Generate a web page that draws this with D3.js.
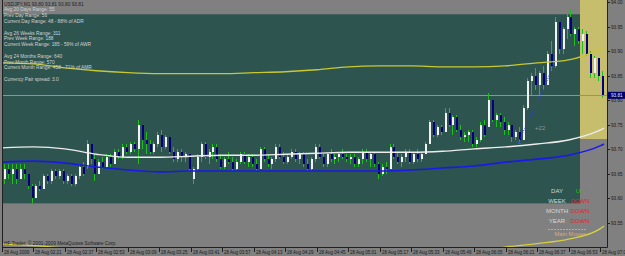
<!DOCTYPE html>
<html>
<head>
<meta charset="utf-8">
<script src="https://cdn.jsdelivr.net/npm/d3@7"></script>
<style>
  html, body { margin: 0; padding: 0; background: #808080; }
  svg { display: block; }
  text { font-family: "Liberation Sans", Arial, sans-serif; }
</style>
</head>
<body>
<svg id="chart" width="625" height="256"></svg>
<script>
const WIDTH = 625;
const HEIGHT = 256;

// USDJPY M1, values in pips above 93.00, one candle every two minutes from 02:06
const opens = [
  64, 66, 65, 66, 64, 66, 65, 62.5, 60, 62.5,
  62, 64.5, 63.5, 65.5, 64.5, 65.5, 63.5, 64.5, 63, 64.5,
  66.5, 66.5, 71, 68, 65, 67.5, 66.5, 68.5, 67, 69.5,
  68.5, 70.5, 69.5, 71, 70, 75, 72, 71, 69.5, 71,
  73, 70.5, 72.5, 69.5, 68, 69.5, 68.5, 69, 64, 66,
  68.5, 71, 68.5, 69.5, 70.5, 68, 66.5, 68, 67.5, 66,
  67.5, 69, 67.5, 68.5, 67, 66, 70, 68, 67, 68,
  70.5, 68.5, 67.5, 68.5, 69.5, 68, 69, 67, 66, 68,
  70.5, 68.5, 67, 69, 68, 68.5, 69, 68.5, 68, 68.5,
  67, 68, 69.5, 68, 69, 67, 65, 66.5, 66, 70.5,
  68.5, 67.5, 68.5, 69.5, 67.5, 69, 68, 69, 71, 75.5,
  73, 74.5, 73.5, 77.5, 75, 76.5, 74, 72.5, 73, 73.5,
  71, 72, 75, 74.5, 80, 76, 77, 75.5, 74, 75,
  72.5, 73.5, 72, 78.5, 84, 85, 83, 85.5, 83, 89.5,
  87, 96, 90.5, 94.5, 97, 93.5, 94.5, 92, 93.5, 89.5,
  85.5, 88.5, 85
];
const highs = [
  67, 67, 67, 67, 67, 67, 65, 63, 63, 63.5,
  65, 65, 66, 66, 66, 66, 65, 65, 65, 67,
  67.5, 72, 71, 69, 68, 68.5, 69, 69, 70, 70,
  71, 71, 71.5, 71.5, 76, 75, 73.5, 72, 71.5, 73.5,
  74, 73, 72.5, 70.5, 70, 70, 69.5, 69, 66.5, 69,
  71.5, 71.5, 70, 71, 71, 69, 68.5, 69.5, 68.5, 68,
  69.5, 69.5, 69, 69, 68, 70.5, 70.5, 69, 68.5, 71,
  71, 69.5, 69, 70, 70, 69.5, 69.5, 68, 68.5, 71,
  71, 69, 69.5, 70, 69, 69.5, 70, 69, 69, 69,
  68.5, 70, 70, 69.5, 69.5, 67.5, 67, 67.5, 71, 71,
  69.5, 69, 70, 70, 69.5, 70, 69.5, 71.5, 76, 76,
  75, 75, 78.5, 78.5, 77, 77, 75, 73.5, 74, 74,
  72.5, 75.5, 76, 81.5, 80, 77.5, 77.5, 76.5, 75.5, 75,
  74, 74.5, 79, 84.5, 85.5, 86.5, 86, 87, 90, 92,
  97, 96, 95, 97.5, 98.5, 95, 95, 94.5, 94, 90,
  89, 88.5, 86
];
const lows = [
  63, 64, 63, 63, 64, 64, 62, 59, 60, 61.5,
  62, 63, 63, 64, 64, 63, 63, 62.5, 62.5, 64,
  64.5, 66, 67, 63.5, 65, 66, 66, 66.5, 67, 68,
  68, 69, 69, 69.5, 67, 70, 69, 69, 69, 70.5,
  69.5, 70, 69, 67.5, 67.5, 67.5, 67.5, 65.5, 63, 65.5,
  67.5, 68, 67, 68, 67.5, 66, 66, 67, 65.5, 65.5,
  67, 67, 66.5, 66.5, 65.5, 66, 67.5, 66.5, 66, 67.5,
  68, 67, 67, 68, 67.5, 67, 66.5, 65.5, 65.5, 67.5,
  68, 66.5, 66.5, 67.5, 67, 67.5, 68, 67.5, 67, 66.5,
  66.5, 67, 67.5, 66.5, 66.5, 64, 64.5, 65, 66, 68,
  67, 66.5, 67.5, 67, 67, 67.5, 67.5, 69, 71, 72.5,
  72.5, 73, 73.5, 74.5, 73, 73.5, 72, 71.5, 71.5, 70.5,
  70.5, 71.5, 72.5, 74.5, 75.5, 74.5, 74.5, 73, 73, 71.5,
  72, 71.5, 72, 78, 81, 82, 81, 82, 83, 86,
  86.5, 89.5, 89.5, 92.5, 93, 91, 91.5, 89.5, 89, 84.5,
  84.5, 84, 80.5
];
const closes = [
  66, 65, 66, 64, 66, 65, 62.5, 60, 62.5, 62,
  64.5, 63.5, 65.5, 64.5, 65.5, 63.5, 64.5, 63, 64.5, 66.5,
  65, 71, 68, 65, 67.5, 66.5, 68.5, 67, 69.5, 68.5,
  70.5, 69.5, 71, 70, 75, 72, 71, 69.5, 71, 73,
  70.5, 72.5, 69.5, 68, 69.5, 68.5, 69, 66, 66, 68.5,
  71, 68.5, 69.5, 70.5, 68, 66.5, 68, 67.5, 66, 67.5,
  69, 67.5, 68.5, 67, 66, 70, 68, 67, 68, 70.5,
  68.5, 67.5, 68.5, 69.5, 68, 69, 67, 66, 68, 70.5,
  68.5, 67, 69, 68, 68.5, 69, 68.5, 68, 68.5, 67,
  68, 69.5, 68, 69, 67, 65, 66.5, 66, 70.5, 68.5,
  67.5, 68.5, 69.5, 67.5, 69, 68, 69, 71, 75.5, 73,
  74.5, 73.5, 77.5, 75, 76.5, 74, 72.5, 73, 73.5, 71,
  72, 75, 73, 80, 76, 77, 75.5, 74, 75, 72.5,
  73.5, 72, 78.5, 84, 85, 83, 85.5, 83, 89.5, 87,
  96, 90.5, 94.5, 97, 93.5, 94.5, 92, 93.5, 89.5, 85.5,
  88.5, 85, 81
];

// moving averages sampled at the axis ticks (pips above 93.00)
const maTimes = [
  "02:05", "02:21", "02:37", "02:53", "03:09", "03:25", "03:41", "03:57",
  "04:13", "04:29", "04:45", "05:01", "05:17", "05:33", "05:49", "06:05",
  "06:21", "06:37", "06:53", "07:09", "07:11"
];
const maWhite = [
  70.3, 70.5, 70.1, 69.0, 68.4, 68.4, 68.6, 68.8, 68.8, 69.0, 69.2,
  69.4, 69.4, 69.4, 69.6, 70.1, 70.5, 71.1, 71.9, 73.9, 74.3
];
const maBlue = [
  67.4, 67.6, 67.2, 66.4, 65.8, 65.4, 65.6, 65.6, 65.6, 65.6, 65.6,
  65.6, 65.6, 65.8, 66.2, 66.6, 67.4, 68.0, 68.8, 70.7, 71.1
];
const bandUpper = [
  87.6, 87.4, 86.6, 86.0, 85.6, 85.4, 85.4, 85.4, 85.6, 85.8, 86.2,
  86.8, 87.0, 87.0, 86.8, 86.8, 87.0, 87.6, 88.2, 90.4, 90.8
];
const bandLower = [
  50.7, 50.4, 49.9, 49.3, 48.8, 48.3, 48.0, 47.8, 47.6, 47.5, 47.5,
  47.6, 47.8, 48.0, 48.4, 48.9, 50.1, 50.8, 51.7, 53.8, 54.4
];

// dotted trailing stop under the last rally
const sarTimes = ["06:28", "06:33", "06:38", "06:42", "06:45"];
const sarValues = [71.9, 76.2, 80.4, 83.8, 87.5];

const tickTimes = [
  "02:05", "02:21", "02:37", "02:53", "03:09", "03:25", "03:41", "03:57",
  "04:13", "04:29", "04:45", "05:01", "05:17", "05:33", "05:49", "06:05",
  "06:21", "06:37", "06:53", "07:09"
];
const tickLabels = [
  "28 Aug 2009", "28 Aug 02:21", "28 Aug 02:37", "28 Aug 02:53", "28 Aug 03:09",
  "28 Aug 03:25", "28 Aug 03:41", "28 Aug 03:57", "28 Aug 04:13", "28 Aug 04:29",
  "28 Aug 04:45", "28 Aug 05:01", "28 Aug 05:17", "28 Aug 05:33", "28 Aug 05:49",
  "28 Aug 06:05", "28 Aug 06:21", "28 Aug 06:37", "28 Aug 06:53", "28 Aug 07:09"
];
const priceTicks = [93.55, 93.6, 93.65, 93.7, 93.75, 93.8, 93.85, 93.9, 93.95, 94.0];
const bidPrice = 93.81;

const infoLines = [
  "USDJPY,M1  93.80 93.81 93.80 93.81",
  "Avg 20 Days Range: 55",
  "Prev Day Range: 56",
  "Current Day Range: 48 - 88% of ADR",
  "",
  "Avg 26 Weeks Range: 311",
  "Prev Week Range: 188",
  "Current Week Range: 185 - 59% of AWR",
  "",
  "Avg 24 Months Range: 640",
  "Prev Month Range: 570",
  "Current Month Range: 458 - 71% of AMR",
  "",
  "Currency Pair spread: 3.0"
];
const trendNames = ["DAY", "WEEK", "MONTH", "YEAR"];
const trendValues = ["UP", "DOWN", "DOWN", "DOWN"];

const parseTime = d3.timeParse("%Y-%m-%d %H:%M");
const at = (hm) => parseTime("2009-08-28 " + hm);
const price = (pips) => 93 + pips / 100;

const firstBar = at("02:06");
const candles = opens.map((o, i) => ({
  time: d3.timeMinute.offset(firstBar, i * 2),
  open: price(o),
  high: price(highs[i]),
  low: price(lows[i]),
  close: price(closes[i]),
}));

const plot = { left: 2, right: 607, top: 0, bottom: 247 };

const xScale = d3
  .scaleTime()
  .domain([at("02:05"), at("07:09")])
  .range([2, 600]);

const yScale = d3.scaleLinear().domain([93.55, 94.0]).range([223, 2]);

const svg = d3.select("#chart");

svg.append("rect").attr("width", WIDTH).attr("height", HEIGHT).attr("fill", "#808080");

svg
  .append("defs")
  .append("clipPath")
  .attr("id", "plot-area")
  .append("rect")
  .attr("x", plot.left)
  .attr("y", plot.top)
  .attr("width", plot.right - plot.left)
  .attr("height", plot.bottom - plot.top);

const area = svg.append("g").attr("clip-path", "url(#plot-area)");

// session boxes
area
  .append("rect")
  .attr("x", 3)
  .attr("y", yScale(93.975))
  .attr("width", 577)
  .attr("height", yScale(93.59) - yScale(93.975))
  .attr("fill", "#2e5450");

area
  .append("rect")
  .attr("x", 580)
  .attr("y", 0)
  .attr("width", 27)
  .attr("height", yScale(93.721))
  .attr("fill", "#c6bd6d");

// bid line
area
  .append("line")
  .attr("x1", plot.left)
  .attr("x2", plot.right)
  .attr("y1", Math.round(yScale(bidPrice)) + 0.5)
  .attr("y2", Math.round(yScale(bidPrice)) + 0.5)
  .attr("stroke", "#8a9492")
  .attr("stroke-width", 1);

// candles
const bars = area.append("g").attr("shape-rendering", "crispEdges");

bars
  .selectAll(".wick")
  .data(candles)
  .enter()
  .append("rect")
  .attr("x", (d) => Math.round(xScale(d.time)))
  .attr("y", (d) => yScale(d.high))
  .attr("width", 1)
  .attr("height", (d) => Math.max(1, yScale(d.low) - yScale(d.high)))
  .attr("fill", "#1fbf1f");

bars
  .selectAll(".body")
  .data(candles)
  .enter()
  .append("rect")
  .attr("x", (d) => Math.round(xScale(d.time)))
  .attr("y", (d) => yScale(Math.max(d.open, d.close)))
  .attr("width", 2)
  .attr("height", (d) => Math.max(1, Math.abs(yScale(d.open) - yScale(d.close))))
  .attr("fill", (d) => (d.close >= d.open ? "#f2f2f2" : "#00007c"));

// indicator lines
const maPoints = (values) => values.map((v, i) => [at(maTimes[i]), price(v)]);
const line = d3
  .line()
  .x((d) => xScale(d[0]))
  .y((d) => yScale(d[1]))
  .curve(d3.curveMonotoneX);

area
  .append("path")
  .attr("d", line(maPoints(bandUpper)))
  .attr("fill", "none")
  .attr("stroke", "#c8c832")
  .attr("stroke-width", 1.3);

area
  .append("path")
  .attr("d", line(maPoints(bandLower)))
  .attr("fill", "none")
  .attr("stroke", "#d4d040")
  .attr("stroke-width", 1.3);

area
  .append("path")
  .attr("d", line(maPoints(maWhite)))
  .attr("fill", "none")
  .attr("stroke", "#ececec")
  .attr("stroke-width", 1.4);

area
  .append("path")
  .attr("d", line(maPoints(maBlue)))
  .attr("fill", "none")
  .attr("stroke", "#1a1ae6")
  .attr("stroke-width", 1.6);

area
  .append("path")
  .attr("d", line(sarTimes.map((t, i) => [at(t), price(sarValues[i])])))
  .attr("fill", "none")
  .attr("stroke", "#2a3cff")
  .attr("stroke-width", 1)
  .attr("stroke-dasharray", "1,1.5");

area
  .append("path")
  .attr("d", () => {
    const x = xScale(at(sarTimes[0]));
    const y = yScale(price(sarValues[0])) + 1;
    return `M${x - 2},${y + 3}L${x},${y}L${x + 2},${y + 3}Z`;
  })
  .attr("fill", "#3050ff");

area
  .append("text")
  .attr("x", xScale(at("06:36")))
  .attr("y", yScale(93.74))
  .attr("font-size", 6)
  .attr("fill", "#8c9896")
  .text("+22");

// frame
svg
  .append("path")
  .attr("d", `M${plot.left + 0.5},0V${plot.bottom + 0.5}H${plot.right + 0.5}V0`)
  .attr("fill", "none")
  .attr("stroke", "#202020")
  .attr("stroke-width", 1);

// price axis
const yAxis = svg.append("g");
priceTicks.forEach((p) => {
  const y = Math.round(yScale(p)) + 0.5;
  yAxis
    .append("line")
    .attr("x1", plot.right)
    .attr("x2", plot.right + 3)
    .attr("y1", y)
    .attr("y2", y)
    .attr("stroke", "#202020");
  yAxis
    .append("text")
    .attr("x", plot.right + 4)
    .attr("y", y)
    .attr("dy", "0.35em")
    .attr("font-size", 4.6)
    .attr("fill", "#1a1a1a")
    .text(p.toFixed(2));
});

const bidY = yScale(bidPrice);
yAxis
  .append("rect")
  .attr("x", plot.right + 1)
  .attr("y", bidY - 3.5)
  .attr("width", 18)
  .attr("height", 7)
  .attr("fill", "#00006e");
yAxis
  .append("text")
  .attr("x", plot.right + 4)
  .attr("y", bidY)
  .attr("dy", "0.35em")
  .attr("font-size", 4.6)
  .attr("fill", "#e8e8e8")
  .text(bidPrice.toFixed(2));

// time axis
const xAxis = svg.append("g");
tickTimes.forEach((t, i) => {
  const x = Math.round(xScale(at(t))) + 0.5;
  xAxis
    .append("line")
    .attr("x1", x)
    .attr("x2", x)
    .attr("y1", plot.bottom)
    .attr("y2", plot.bottom + 5)
    .attr("stroke", "#202020");
  xAxis
    .append("text")
    .attr("x", x + 1.5)
    .attr("y", 254)
    .attr("font-size", 4.5)
    .attr("fill", "#1a1a1a")
    .text(tickLabels[i]);
});

// info block top left
svg
  .append("g")
  .selectAll("text")
  .data(infoLines)
  .enter()
  .append("text")
  .attr("x", 4)
  .attr("y", (d, i) => 5.5 + i * 5.8)
  .attr("font-size", 4.8)
  .attr("fill", (d, i) => (i === 0 ? "#1e1e1e" : "#d2d2d2"))
  .text((d) => d);

svg
  .append("text")
  .attr("x", 4)
  .attr("y", 244.5)
  .attr("font-size", 4.8)
  .attr("fill", "#1e1e1e")
  .text("HF Trader, \u00a9 2001-2009 MetaQuotes Software Corp.");

// trend panel bottom right
const trend = svg.append("g").attr("font-size", 6);
trendNames.forEach((name, i) => {
  const y = 193 + i * 10;
  trend
    .append("text")
    .attr("x", 557)
    .attr("y", y)
    .attr("text-anchor", "middle")
    .attr("fill", "#d8d8d8")
    .text(name);
  trend
    .append("text")
    .attr("x", 580)
    .attr("y", y)
    .attr("text-anchor", "middle")
    .attr("fill", trendValues[i] === "UP" ? "#20c020" : "#e0242c")
    .text(trendValues[i]);
});

trend
  .append("line")
  .attr("x1", 548)
  .attr("x2", 586)
  .attr("y1", 229.5)
  .attr("y2", 229.5)
  .attr("stroke", "#d8a57a")
  .attr("stroke-dasharray", "2,1");

trend
  .append("text")
  .attr("x", 570)
  .attr("y", 236)
  .attr("text-anchor", "middle")
  .attr("font-size", 5.8)
  .attr("fill", "#dca878")
  .text("Main Moves");
</script>
</body>
</html>
